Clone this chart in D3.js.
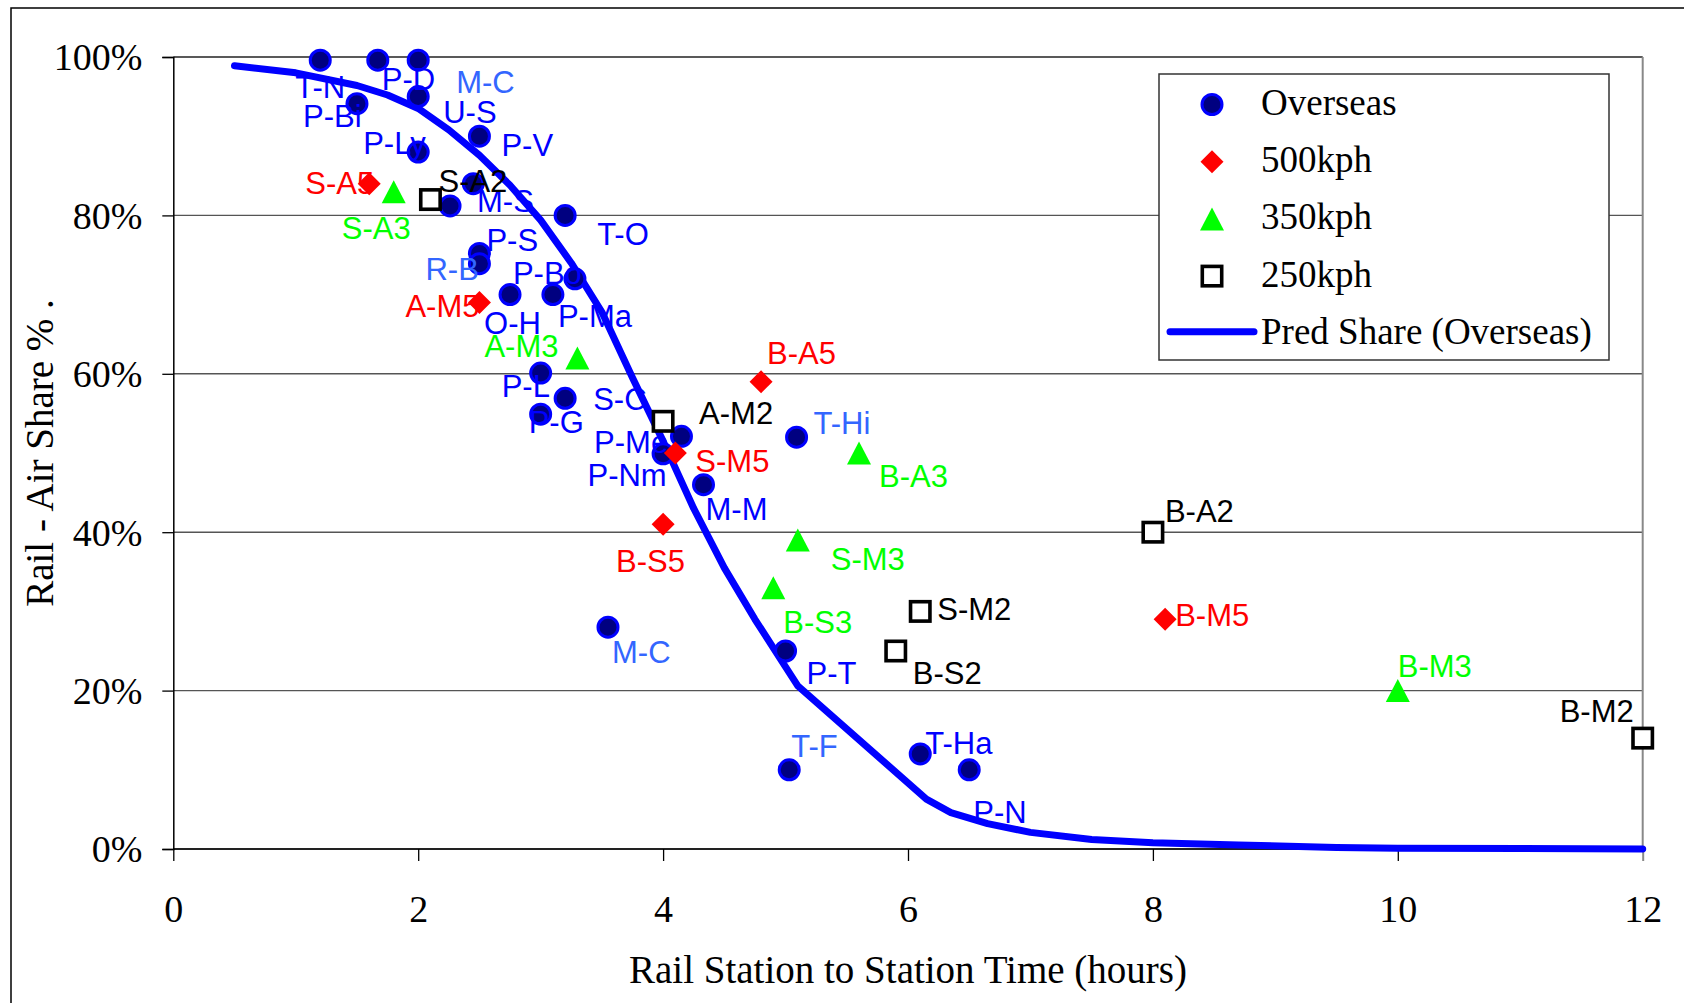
<!DOCTYPE html>
<html>
<head>
<meta charset="utf-8">
<script src="https://cdnjs.cloudflare.com/ajax/libs/d3/7.8.5/d3.min.js"></script>
<style>
  body { margin: 0; background: #fff; }
  svg { display: block; }
</style>
</head>
<body>
<script>
// tick values
var xTicks = [0, 2, 4, 6, 8, 10, 12];
var yTicks = [0, 20, 40, 60, 80, 100];

// observed shares: [hours, rail share %, label]
var overseas = [
  [1.2, 99.6, "T-N"], [1.67, 99.6, "P-D"], [2.0, 99.6, "M-C"], [2.0, 95, "U-S"],
  [1.5, 94.1, "P-Bi"], [2.5, 90, "P-V"], [2.0, 88, "P-Ly"], [2.45, 84, ""],
  [2.26, 81.2, "M-S"], [3.2, 80, "T-O"], [2.5, 75.2, "P-S"], [2.5, 73.9, "R-B"],
  [2.75, 70, "O-H"], [3.1, 70, "P-Ma"], [3.28, 72, "P-Bo"], [3.0, 60.1, "P-L"],
  [3.2, 56.9, "S-C"], [3.0, 54.9, "P-G"], [4.15, 52.1, "P-Nm"], [4.0, 49.9, "P-Me"],
  [4.33, 46, "M-M"], [5.09, 52, "T-Hi"], [3.55, 28, "M-C"], [5.0, 25, "P-T"],
  [5.03, 10, "T-F"], [6.1, 12, "T-Ha"], [6.5, 10, "P-N"]
];
var kph500 = [
  [1.6, 84, "S-A5"], [2.5, 69, "A-M5"], [4.8, 59, "B-A5"],
  [4.1, 50, "S-M5"], [4.0, 41, "B-S5"], [8.1, 29, "B-M5"]
];
var kph350 = [
  [1.8, 83, "S-A3"], [3.3, 62, "A-M3"], [5.6, 50, "B-A3"],
  [5.1, 39, "S-M3"], [4.9, 33, "B-S3"], [10, 20, "B-M3"]
];
var kph250 = [
  [2.1, 82, "S-A2"], [4.0, 54, "A-M2"], [6.1, 30, "S-M2"],
  [5.9, 25, "B-S2"], [8.0, 40, "B-A2"], [12, 14, "B-M2"]
];

// predicted share curve (overseas)
var predT     = [0.5, 1.0, 1.5, 1.75, 2.0, 2.25, 2.5, 2.75, 3.0, 3.25, 3.5, 3.75, 4.0, 4.25, 4.5, 4.75, 5.0, 5.1, 6.15, 6.35, 6.65, 7.0, 7.5, 8.0, 8.7, 9.5, 10, 11, 12];
var predShare = [98.9, 98.0, 96.4, 95.2, 93.5, 90.8, 87.6, 83.8, 79.4, 74, 67.8, 59.5, 51.5, 43, 35.5, 29, 23, 20.6, 6.3, 4.6, 3.2, 2.1, 1.2, 0.8, 0.5, 0.2, 0.1, 0.05, 0];

var legendNames = ["Overseas", "500kph", "350kph", "250kph", "Pred Share (Overseas)"];

// label placement (label left / baseline relative to marker, px)
var overseasNudge = [
  [-25, 38], [4, 30], [38, 33], [25, 26], [-54, 23], [22, 20], [-55, 2], [0, 0],
  [27, 6], [32, 30], [7, -2], [-54, 16], [-26, 39], [5, 32], [-62, 5], [-39, 24],
  [28, 12], [-12, 19], [-94, 50], [-69, -1], [2, 35], [17, -3], [4, 36], [21, 33],
  [2, -13], [5, 0], [4, 53]
];
var lightLabels = [2, 11, 21, 22, 24];
var kph500Nudge = [[-64, 10], [-74, 14], [6, -18], [20, 19], [-47, 48], [10, 7]];
var kph350Nudge = [[-52, 47], [-93, -1], [20, 34], [33, 30], [10, 45], [0, -14]];
var kph250Nudge = [[8, -8], [36, 3], [17, 9], [17, 33], [12, -10], [-83, -16]];

(function () {
  var W = 1684, H = 1003;
  var serif = "'Liberation Serif', 'Times New Roman', serif";
  var sans = "'Liberation Sans', Arial, sans-serif";

  var svg = d3.select("body").append("svg")
      .attr("width", W)
      .attr("height", H);

  var x = d3.scaleLinear().domain([0, 12]).range([173.3, 1642.7]);
  var y = d3.scaleLinear().domain([0, 100]).range([849, 57]);

  // chart frame
  svg.append("rect")
      .attr("x", 11).attr("y", 8)
      .attr("width", W + 20).attr("height", H + 20)
      .attr("fill", "none")
      .attr("stroke", "#000")
      .attr("stroke-width", 1.5);

  // gridlines
  svg.append("g").selectAll("line")
      .data(yTicks)
    .enter().append("line")
      .attr("x1", x(0)).attr("x2", x(12))
      .attr("y1", function (d) { return y(d); })
      .attr("y2", function (d) { return y(d); })
      .attr("stroke", function (d) { return d === 0 || d === 100 ? "#222" : "#555"; })
      .attr("stroke-width", function (d) { return d === 0 ? 2 : 1.4; });

  svg.append("line")
      .attr("x1", x(12)).attr("x2", x(12))
      .attr("y1", y(100)).attr("y2", y(0))
      .attr("stroke", "#888")
      .attr("stroke-width", 2);

  // axes
  var yAxis = svg.append("g")
      .attr("transform", "translate(" + x(0) + ",0)")
      .call(d3.axisLeft(y).tickValues(yTicks).tickSize(11).tickPadding(20)
        .tickFormat(function (d) { return d + "%"; }));
  yAxis.select(".domain").attr("stroke", "#000").attr("stroke-width", 1.5);
  yAxis.selectAll(".tick line").attr("stroke", "#000").attr("stroke-width", 1.3);
  yAxis.selectAll("text")
      .attr("font-family", serif)
      .attr("font-size", 38)
      .attr("fill", "#000")
      .attr("dy", "0.34em");

  var xAxis = svg.append("g")
      .attr("transform", "translate(0," + y(0) + ")")
      .call(d3.axisBottom(x).tickValues(xTicks).tickSize(12));
  xAxis.select(".domain").remove();
  xAxis.selectAll(".tick line")
      .attr("stroke", function (d) { return d === 12 ? "#888" : "#000"; })
      .attr("stroke-width", function (d) { return d === 12 ? 2 : 1.3; });
  xAxis.selectAll("text")
      .attr("font-family", serif)
      .attr("font-size", 38)
      .attr("fill", "#000")
      .attr("y", 73)
      .attr("dy", 0);

  // axis titles
  svg.append("text")
      .attr("x", (x(0) + x(12)) / 2)
      .attr("y", 983)
      .attr("text-anchor", "middle")
      .attr("font-family", serif)
      .attr("font-size", 39)
      .text("Rail Station to Station Time (hours)");

  svg.append("text")
      .attr("transform", "translate(53," + (y(0) + y(100)) / 2 + ") rotate(-90)")
      .attr("text-anchor", "middle")
      .attr("font-family", serif)
      .attr("font-size", 39)
      .text("Rail - Air Share % .");

  // predicted curve
  var line = d3.line()
      .x(function (d) { return x(d[0]); })
      .y(function (d) { return y(d[1]); });

  svg.append("path")
      .datum(d3.zip(predT, predShare))
      .attr("d", line)
      .attr("fill", "none")
      .attr("stroke", "#0000FF")
      .attr("stroke-width", 7)
      .attr("stroke-linecap", "round")
      .attr("stroke-linejoin", "round");

  // marker shapes
  function circle(g) {
    g.append("circle").attr("r", 10)
        .attr("fill", "#000080").attr("stroke", "#0000FF").attr("stroke-width", 3);
  }
  function diamond(g) {
    g.append("path").attr("d", "M0,-11.5L11.5,0L0,11.5L-11.5,0Z").attr("fill", "#FF0000");
  }
  function triangle(g) {
    g.append("path").attr("d", "M0,-11.5L12,11.5L-12,11.5Z").attr("fill", "#00FF00");
  }
  function square(g) {
    g.append("rect").attr("x", -9.7).attr("y", -9.7).attr("width", 19.4).attr("height", 19.4)
        .attr("fill", "#fff").attr("stroke", "#000").attr("stroke-width", 3.6);
  }

  function series(data, shape) {
    svg.append("g").selectAll("g")
        .data(data)
      .enter().append("g")
        .attr("transform", function (d) { return "translate(" + x(d[0]) + "," + y(d[1]) + ")"; })
        .each(function () { shape(d3.select(this)); });
  }

  function labels(data, nudge, color) {
    svg.append("g").selectAll("text")
        .data(data.filter(function (d) { return d[2]; }))
      .enter().append("text")
        .attr("x", function (d) { return x(d[0]) + nudge[data.indexOf(d)][0]; })
        .attr("y", function (d) { return y(d[1]) + nudge[data.indexOf(d)][1]; })
        .attr("font-family", sans)
        .attr("font-size", 31)
        .attr("fill", function (d) { return typeof color === "function" ? color(data.indexOf(d)) : color; })
        .text(function (d) { return d[2]; });
  }

  series(overseas, circle);
  series(kph500, diamond);
  series(kph350, triangle);
  series(kph250, square);

  labels(overseas, overseasNudge, function (i) { return lightLabels.indexOf(i) >= 0 ? "#3366FF" : "#0000FF"; });
  labels(kph500, kph500Nudge, "#FF0000");
  labels(kph350, kph350Nudge, "#00FF00");
  labels(kph250, kph250Nudge, "#000");

  // legend
  var legend = svg.append("g");
  legend.append("rect")
      .attr("x", 1159).attr("y", 74)
      .attr("width", 450).attr("height", 286)
      .attr("fill", "#fff")
      .attr("stroke", "#333")
      .attr("stroke-width", 1.5);

  var shapes = [circle, diamond, triangle, square];
  var item = legend.selectAll("g")
      .data(legendNames)
    .enter().append("g")
      .attr("transform", function (d, i) { return "translate(0," + (115 + i * 57.2) + ")"; });

  item.each(function (d, i) {
    var g = d3.select(this);
    if (i < 4) {
      shapes[i](g.append("g").attr("transform", "translate(1212,-10.5)"));
    } else {
      g.append("line")
          .attr("x1", 1170).attr("x2", 1254)
          .attr("y1", -12).attr("y2", -12)
          .attr("stroke", "#0000FF")
          .attr("stroke-width", 7)
          .attr("stroke-linecap", "round");
    }
    g.append("text")
        .attr("x", 1261)
        .attr("font-family", serif)
        .attr("font-size", 37)
        .text(d);
  });
})();
</script>
</body>
</html>
